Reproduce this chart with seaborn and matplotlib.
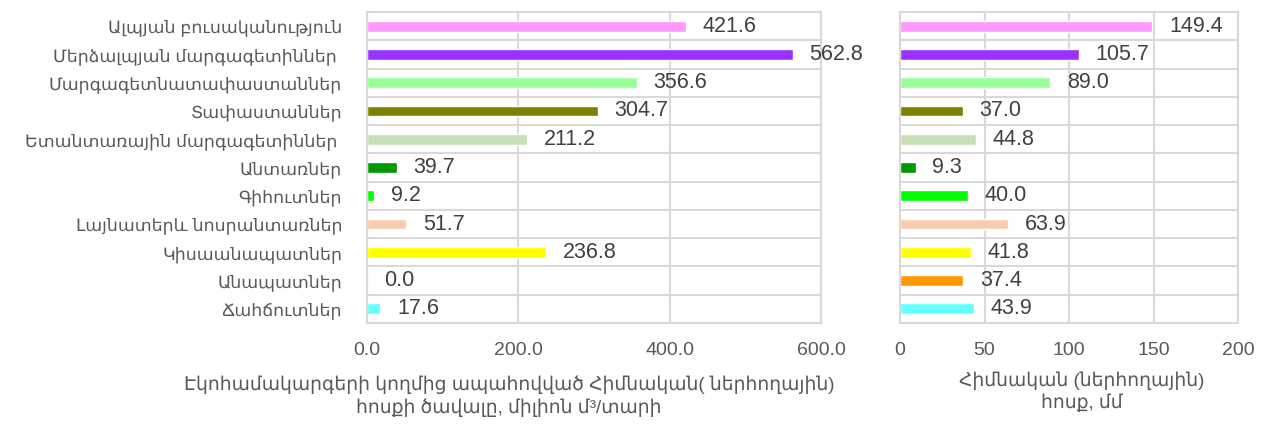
import matplotlib
matplotlib.use('Agg')
import matplotlib.pyplot as plt
import seaborn as sns
import pandas as pd
import numpy as np

categories = [
    'Ալպյան բուսականություն',
    'Մերձալպյան մարգագետիններ ',
    'Մարգագետնատափաստաններ',
    'Տափաստաններ',
    'Ետանտառային մարգագետիններ ',
    'Անտառներ',
    'Գիհուտներ',
    'Լայնատերև նոսրանտառներ',
    'Կիսաանապատներ',
    'Անապատներ',
    'Ճահճուտներ',
]
volume = [421.6, 562.8, 356.6, 304.7, 211.2, 39.7, 9.2, 51.7, 236.8, 0.0, 17.6]
flow = [149.4, 105.7, 89.0, 37.0, 44.8, 9.3, 40.0, 63.9, 41.8, 37.4, 43.9]
colors = ['#FF99FF', '#9933FF', '#99FF99', '#808000', '#C5E0B4', '#009900',
          '#00FF00', '#F8CBAD', '#FFFF00', '#FF9900', '#66FFFF']

left_title = 'Էկոհամակարգերի կողմից ապահովված Հիմնական( ներհողային)\nհոսքի ծավալը, միլիոն մ³/տարի'
right_title = 'Հիմնական (ներհողային)\nհոսք, մմ'

sns.set_style('white')
plt.rcParams['font.family'] = ['Liberation Sans', 'DejaVu Sans']

df = pd.DataFrame({'category': categories, 'volume': volume, 'flow': flow})

fig = plt.figure(figsize=(12.66, 4.28), dpi=100)
ax1 = fig.add_axes([367 / 1266, 1 - 323 / 428, 454 / 1266, 311 / 428])
ax2 = fig.add_axes([900 / 1266, 1 - 323 / 428, 338 / 1266, 311 / 428])

grid_c = '#D9D9D9'
text_c = '#404040'
tick_c = '#595959'

for ax, col, xmax, ticks, fmt in [(ax1, 'volume', 600, [0, 200, 400, 600], '{:.1f}'),
                                  (ax2, 'flow', 200, [0, 50, 100, 150, 200], '{:.0f}')]:
    sns.barplot(data=df, y='category', x=col, hue='category', palette=colors,
                width=0.38, legend=False, orient='h', ax=ax, saturation=1)
    for cont in ax.containers:
        ax.bar_label(cont, fmt='%.1f', padding=12, fontsize=15.5, color=text_c)
    ax.set_xlim(0, xmax)
    ax.set_xticks(ticks)
    ax.set_xticklabels([fmt.format(t) for t in ticks], fontsize=14, color=tick_c)
    ax.set_yticks(np.arange(len(categories)) + 0.5, minor=True)
    ax.grid(True, axis='x', which='major', color=grid_c, lw=1.5)
    ax.grid(True, axis='y', which='minor', color=grid_c, lw=1.5)
    ax.set_axisbelow(True)
    ax.tick_params(axis='both', which='both', length=0)
    ax.tick_params(axis='x', pad=14)
    ax.set_ylabel('')
    for sp in ax.spines.values():
        sp.set_color(grid_c)
        sp.set_linewidth(1.5)

ax1.tick_params(axis='y', pad=18, labelsize=12.5, labelcolor=tick_c)
ax2.set_yticklabels([])

ax1.set_xlabel(left_title, fontsize=13.5, color=tick_c, linespacing=1.3)
ax1.xaxis.set_label_coords((509 - 367) / 454, -0.17)
ax2.set_xlabel(right_title, fontsize=13.5, color=tick_c, linespacing=1.3)
ax2.xaxis.set_label_coords((1082 - 900) / 338, -0.155)

plt.savefig('out.png', dpi=100)
